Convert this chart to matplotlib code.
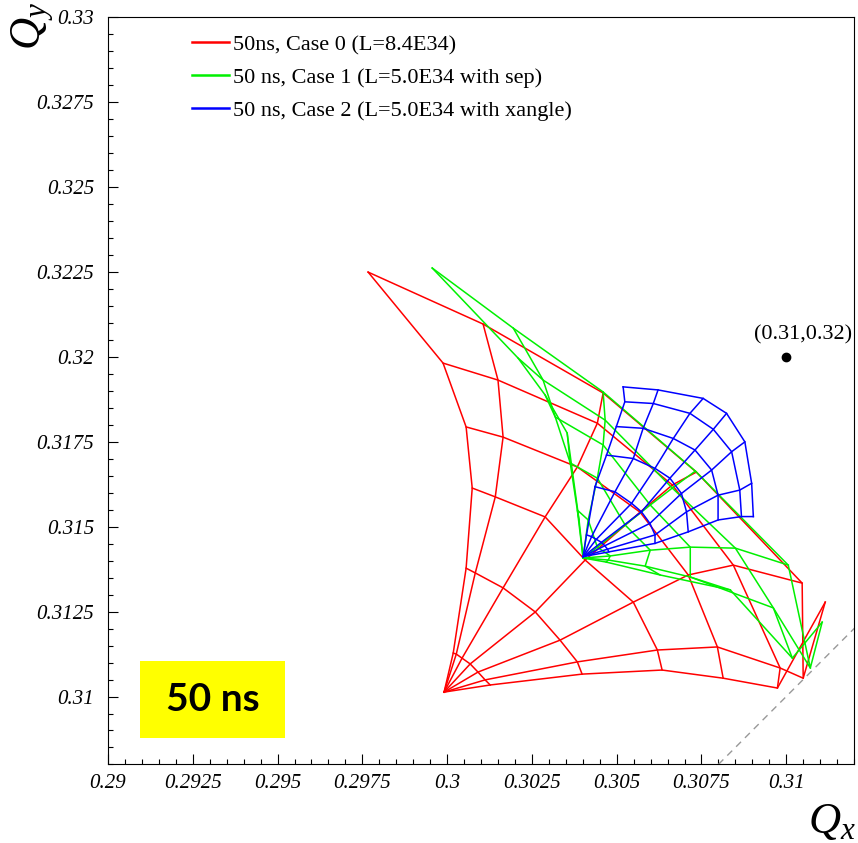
import numpy as np
import matplotlib
matplotlib.use('Agg')
import matplotlib.pyplot as plt
from matplotlib.patches import Rectangle
from matplotlib.ticker import FixedLocator, MultipleLocator

# tune footprints, rows = angle lines (steep -> flat), columns = amplitude steps (small -> large)
# all rows start at the zero amplitude tune given in *_origin

# 50ns, Case 0 (L=8.4E34)
case0_origin = (0.29991, 0.31013)
case0_qx = [
    [0.30018, 0.30056, 0.30074, 0.30056, 0.29988, 0.29767],
    [0.30027, 0.30083, 0.30142, 0.30165, 0.30150, 0.30106],
    [0.30044, 0.30165, 0.30289, 0.30384, 0.30443, 0.30460],
    [0.30068, 0.30260, 0.30407, 0.30569, 0.30664, 0.30735],
    [0.30091, 0.30333, 0.30549, 0.30711, 0.30844, 0.31047],
    [0.30112, 0.30384, 0.30620, 0.30797, 0.30982, 0.31050],
    [0.30127, 0.30398, 0.30634, 0.30814, 0.30974, 0.31115],
]
case0_qy = [
    [0.31128, 0.31378, 0.31614, 0.31794, 0.31982, 0.32250],
    [0.31125, 0.31364, 0.31588, 0.31764, 0.31932, 0.32097],
    [0.31113, 0.31320, 0.31529, 0.31676, 0.31805, 0.31894],
    [0.31096, 0.31249, 0.31402, 0.31543, 0.31623, 0.31661],
    [0.31072, 0.31166, 0.31278, 0.31358, 0.31387, 0.31334],
    [0.31049, 0.31102, 0.31137, 0.31146, 0.31084, 0.31054],
    [0.31034, 0.31066, 0.31078, 0.31054, 0.31025, 0.31278],
]

# 50 ns, Case 1 (L=5.0E34 with sep)
case1_origin = (0.30401, 0.31408)
case1_qx = [
    [0.30389, 0.30354, 0.30289, 0.30209, 0.29956],
    [0.30384, 0.30363, 0.30319, 0.30283, 0.30195],
    [0.30416, 0.30443, 0.30460, 0.30466, 0.30460],
    [0.30443, 0.30525, 0.30599, 0.30664, 0.30732],
    [0.30481, 0.30599, 0.30717, 0.30850, 0.31006],
    [0.30475, 0.30584, 0.30717, 0.30962, 0.31071],
    [0.30469, 0.30628, 0.30835, 0.31018, 0.31106],
]
case1_qy = [
    [0.31520, 0.31776, 0.31888, 0.31997, 0.32262],
    [0.31549, 0.31688, 0.31823, 0.31932, 0.32085],
    [0.31520, 0.31643, 0.31741, 0.31814, 0.31897],
    [0.31440, 0.31505, 0.31564, 0.31614, 0.31664],
    [0.31414, 0.31431, 0.31440, 0.31437, 0.31387],
    [0.31402, 0.31384, 0.31352, 0.31261, 0.31084],
    [0.31396, 0.31358, 0.31314, 0.31113, 0.31219],
]

# 50 ns, Case 2 (L=5.0E34 with xangle)
case2_origin = (0.30401, 0.31412)
case2_qx = [
    [0.30411, 0.30436, 0.30470, 0.30499, 0.30524, 0.30519],
    [0.30426, 0.30495, 0.30549, 0.30578, 0.30608, 0.30622],
    [0.30440, 0.30544, 0.30613, 0.30667, 0.30716, 0.30755],
    [0.30455, 0.30573, 0.30657, 0.30731, 0.30785, 0.30824],
    [0.30465, 0.30598, 0.30691, 0.30780, 0.30839, 0.30878],
    [0.30473, 0.30613, 0.30706, 0.30799, 0.30863, 0.30898],
    [0.30477, 0.30613, 0.30711, 0.30799, 0.30868, 0.30903],
]
case2_qy = [
    [0.31476, 0.31618, 0.31711, 0.31795, 0.31868, 0.31912],
    [0.31471, 0.31603, 0.31701, 0.31790, 0.31863, 0.31903],
    [0.31463, 0.31569, 0.31672, 0.31760, 0.31834, 0.31878],
    [0.31454, 0.31544, 0.31643, 0.31726, 0.31787, 0.31834],
    [0.31444, 0.31510, 0.31598, 0.31667, 0.31721, 0.31750],
    [0.31434, 0.31476, 0.31544, 0.31593, 0.31608, 0.31628],
    [0.31426, 0.31451, 0.31485, 0.31520, 0.31530, 0.31530],
]

labels = ['50ns, Case 0 (L=8.4E34)',
          '50 ns, Case 1 (L=5.0E34 with sep)',
          '50 ns, Case 2 (L=5.0E34 with xangle)']
colors = ['#ff0000', '#00f000', '#0000ff']

# working point and diagonal resonance
working_point = (0.31, 0.32)
diagonal = [0.29, 0.33]

xticks = [0.29, 0.2925, 0.295, 0.2975, 0.3, 0.3025, 0.305, 0.3075, 0.31]
xtick_labels = ['0.29', '0.2925', '0.295', '0.2975', '0.3', '0.3025', '0.305', '0.3075', '0.31']
yticks = [0.31, 0.3125, 0.315, 0.3175, 0.32, 0.3225, 0.325, 0.3275, 0.33]
ytick_labels = ['0.31', '0.3125', '0.315', '0.3175', '0.32', '0.3225', '0.325', '0.3275', '0.33']

plt.rcParams['font.family'] = ['Liberation Serif', 'DejaVu Serif']
plt.rcParams['mathtext.fontset'] = 'custom'
plt.rcParams['mathtext.it'] = 'Liberation Serif:italic'
plt.rcParams['mathtext.rm'] = 'Liberation Serif'


def draw_footprint(ax, origin, qx, qy, color, label):
    qx = np.asarray(qx)
    qy = np.asarray(qy)
    # constant angle lines, starting at zero amplitude
    for i in range(qx.shape[0]):
        ax.plot(np.r_[origin[0], qx[i]], np.r_[origin[1], qy[i]], color=color, lw=1.1)
    # constant amplitude lines
    for j in range(qx.shape[1]):
        ax.plot(qx[:, j], qy[:, j], color=color, lw=1.1)
    ax.plot([], [], color=color, lw=1.8, label=label)


def main():
    fig = plt.figure(figsize=(8.58, 8.43), dpi=100)
    ax = fig.add_axes([0.1259, 0.0932, 0.8695, 0.8861])

    ax.plot(diagonal, diagonal, color='0.6', lw=1.0, ls=(0, (5, 4)))

    cases = [(case0_origin, case0_qx, case0_qy),
             (case1_origin, case1_qx, case1_qy),
             (case2_origin, case2_qx, case2_qy)]
    for (origin, qx, qy), color, label in zip(cases, colors, labels):
        draw_footprint(ax, origin, qx, qy, color, label)

    ax.plot(*working_point, 'o', color='black', ms=6)
    ax.annotate('(%g,%g)' % working_point, working_point, xytext=(12, 9),
                textcoords='offset points', ha='center', va='bottom', fontsize=16)

    ax.set_xlim(0.29, 0.312)
    ax.set_ylim(0.308, 0.33)

    ax.xaxis.set_major_locator(FixedLocator(xticks))
    ax.set_xticklabels(xtick_labels, fontstyle='italic', fontsize=15)
    ax.yaxis.set_major_locator(FixedLocator(yticks))
    ax.set_yticklabels(ytick_labels, fontstyle='italic', fontsize=15)
    ax.xaxis.set_minor_locator(MultipleLocator(0.0005))
    ax.yaxis.set_minor_locator(MultipleLocator(0.0005))
    ax.tick_params(which='both', direction='in', top=False, right=False)
    ax.tick_params(which='major', length=7, width=0.8)
    ax.tick_params(which='minor', length=3.5, width=0.8)
    ax.tick_params(axis='x', pad=7)
    ax.tick_params(axis='y', pad=10)

    fig.text(0.997, 0.012, r'$Q_x$', ha='right', va='baseline', fontsize=32)
    fig.text(0.038, 0.997, r'$Q_y$', ha='center', va='top', rotation=90, fontsize=32)

    ax.legend(loc='upper left', bbox_to_anchor=(0.112, 0.977), frameon=False,
              fontsize=16, handlelength=1.7, handletextpad=0.15, labelspacing=0.56,
              borderpad=0, borderaxespad=0)

    # yellow tag
    fig.patches.append(Rectangle((0.1632, 0.1246), 0.169, 0.0913, transform=fig.transFigure,
                                 facecolor='#ffff00', edgecolor='none', zorder=5))
    fig.text(0.2477, 0.1702, '50 ns', ha='center', va='center', fontsize=28,
             fontweight='bold', family='Lato', zorder=6)

    fig.savefig('out.png', dpi=100)


if __name__ == '__main__':
    main()
